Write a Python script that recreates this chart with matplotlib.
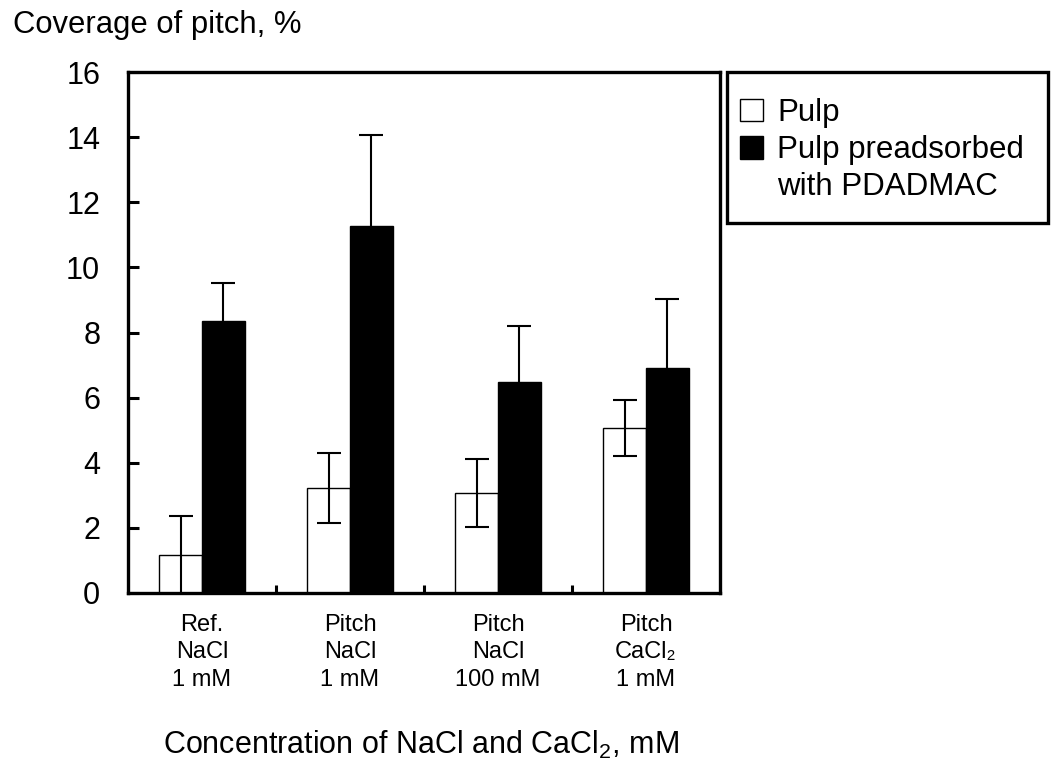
import numpy as np
import matplotlib
matplotlib.use("Agg")
import matplotlib.pyplot as plt
from matplotlib.patches import Patch, Rectangle

plt.rcParams['font.family'] = ['Liberation Sans', 'DejaVu Sans']
plt.rcParams['mathtext.fontset'] = 'custom'
plt.rcParams['mathtext.rm'] = 'Liberation Sans'
plt.rcParams['mathtext.it'] = 'Liberation Sans'

# coverage of pitch (%) with standard deviations
categories = ['Ref.\nNaCl\n1 mM', 'Pitch\nNaCl\n1 mM', 'Pitch\nNaCl\n100 mM', 'Pitch\nCaCl\u2082\n1 mM']
pulp = [1.16, 3.23, 3.07, 5.07]
pulp_err = [1.22, 1.07, 1.04, 0.86]
pdadmac = [8.35, 11.28, 6.49, 6.92]
pdadmac_err = [1.18, 2.80, 1.71, 2.12]
series_labels = ['Pulp', 'Pulp preadsorbed', 'with PDADMAC']

W, H = 1054, 771
fig = plt.figure(figsize=(W / 100, H / 100), dpi=100)
ax = fig.add_axes([128 / W, 1 - 593 / H, (720 - 128) / W, (593 - 72) / H])

x = np.arange(len(categories))
w = 0.288
err_style = dict(elinewidth=1.5, capsize=8.5, capthick=1.5, ecolor='black')
ax.bar(x - w / 2, pulp, w, color='white', edgecolor='black', linewidth=1,
       yerr=pulp_err, error_kw=err_style)
ax.bar(x + w / 2, pdadmac, w, color='black', edgecolor='black', linewidth=1,
       yerr=pdadmac_err, error_kw=err_style)

ax.set_xlim(-0.5, 3.5)
ax.set_ylim(0, 16)
ax.set_yticks(np.arange(0, 17, 2))
ax.set_xticks([0.5, 1.5, 2.5], labels=[])
ax.set_xticks(x, labels=categories, minor=True)

for s in ax.spines.values():
    s.set_linewidth(2.4)
ax.tick_params(axis='y', direction='in', length=8, width=2.2, labelsize=22, pad=20)
ax.tick_params(axis='x', which='major', direction='in', length=6, width=2.2)
ax.tick_params(axis='x', which='minor', length=0, labelsize=17, pad=15)
for t in ax.get_xticklabels(minor=True):
    t.set_linespacing(1.32)

fig.text(13 / W, 1 - 25 / H, 'Coverage of pitch, %', fontsize=22.3, ha='left', va='center')
fig.text(421 / W, 1 - 745 / H, 'Concentration of NaCl and CaCl$_2$, mM', fontsize=22,
         ha='center', va='center')

handles = [Patch(facecolor='white', edgecolor='black', linewidth=1),
           Patch(facecolor='black', edgecolor='black'),
           Patch(facecolor='none', edgecolor='none')]
fig.legend(handles, series_labels, loc='upper left', bbox_to_anchor=(740 / W, 1 - 98 / H),
           frameon=False, fontsize=22.5, handlelength=0.74, handleheight=0.74,
           handletextpad=0.45, labelspacing=0.23, borderpad=0, borderaxespad=0)
fig.add_artist(Rectangle((727 / W, 1 - 223 / H), (1048 - 727) / W, (223 - 72) / H,
                         transform=fig.transFigure, fill=False, linewidth=2.4,
                         edgecolor='black'))

fig.savefig('out.png', dpi=100)
